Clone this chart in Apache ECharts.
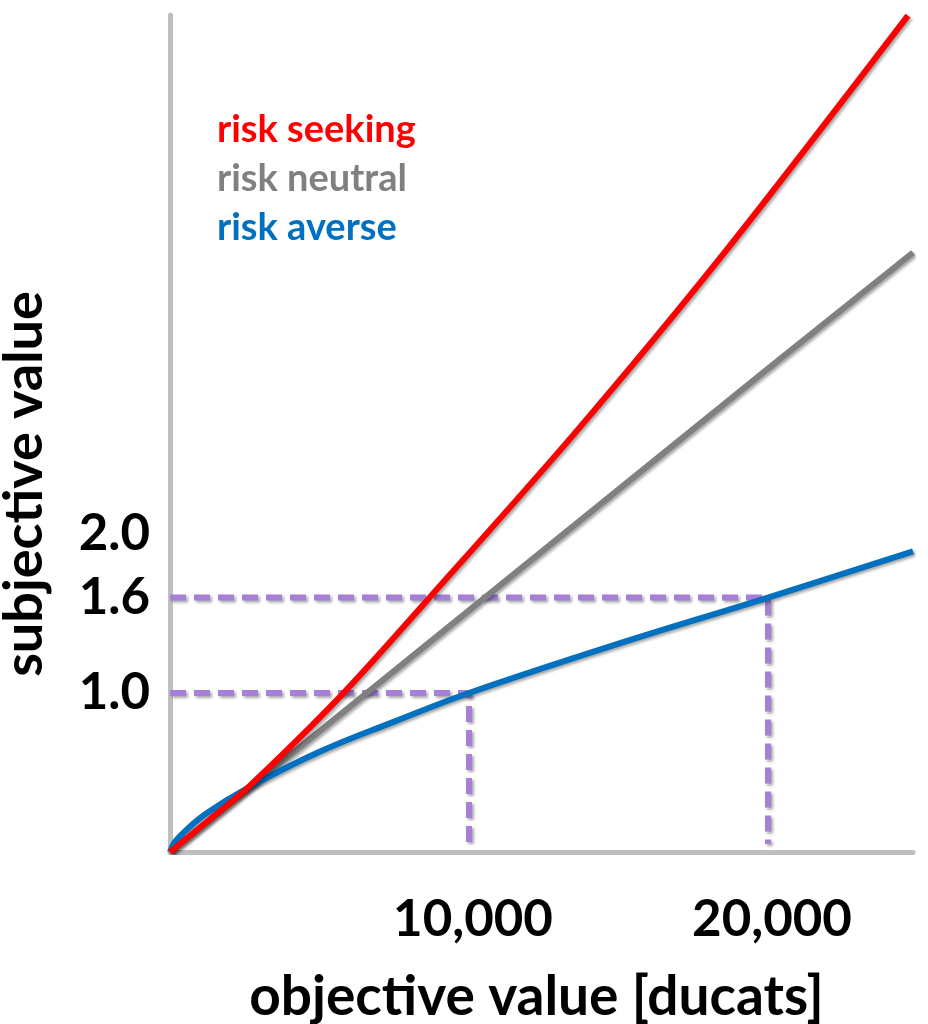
<!DOCTYPE html>
<html>
<head>
<meta charset="utf-8">
<script src="https://cdn.jsdelivr.net/npm/echarts@6/dist/echarts.min.js"></script>
<style>
  html, body { margin: 0; padding: 0; background: #ffffff; }
  #chart { width: 928px; height: 1024px; }
</style>
</head>
<body>
<div id="chart"></div>
<script>
// ---- data (objective value in ducats, subjective value) ----
const seekingX = [0, 1300, 2575, 5753, 8729, 13612, 18629, 24680];
const seekingY = [0, 0.20, 0.40, 0.99, 1.61, 2.65, 3.79, 5.26];

const neutralX = [0, 10000, 20000, 24850];
const neutralY = [0, 1.52, 3.04, 3.77];

const averseX = [0, 150, 500, 1200, 2575, 5000, 7500, 10000, 15000, 20000, 24850];
const averseY = [0, 0.06, 0.13, 0.24, 0.40, 0.63, 0.82, 1.00, 1.31, 1.60, 1.89];

const guideLowX = [0, 10000, 10000];
const guideLowY = [1.0, 1.0, 0.05];
const guideHighX = [0, 20000, 20000];
const guideHighY = [1.6, 1.6, 0.05];

const xTickLabels = [10000, 20000];
const yTickLabels = [1.0, 1.6, 2.0];

const seriesNames = ['risk seeking', 'risk neutral', 'risk averse'];
const seriesColors = ['#ff0000', '#808080', '#0070c0'];

const zip = (xs, ys) => xs.map((x, i) => [x, ys[i]]);
const FONT = 'Lato, "Open Sans", sans-serif';

const shadow = { shadowColor: 'rgba(0,0,0,0.35)', shadowBlur: 3, shadowOffsetX: 2, shadowOffsetY: 2 };

const chart = echarts.init(document.getElementById('chart'), null, { renderer: 'canvas' });

const guideStyle = Object.assign({ color: '#a57fd8', width: 6, type: [16, 8] }, shadow);

chart.setOption({
  backgroundColor: '#ffffff',
  animation: false,
  grid: { left: 170, right: 15, top: 15, bottom: 172, containLabel: false, outerBoundsMode: 'none' },
  legend: {
    orient: 'vertical',
    left: 207,
    top: 105,
    icon: 'none',
    itemWidth: 0,
    itemHeight: 10,
    itemGap: 9,
    selectedMode: false,
    textStyle: { fontFamily: FONT, fontWeight: 'bold', fontSize: 38, lineHeight: 40 },
    data: seriesNames.map((n, i) => ({ name: n, textStyle: { color: seriesColors[i] } }))
  },
  xAxis: {
    type: 'value',
    min: 0,
    max: 24850,
    interval: 10000,
    name: 'objective value [ducats]',
    nameLocation: 'middle',
    nameGap: 118,
    nameTextStyle: { fontFamily: FONT, fontWeight: 'bold', fontSize: 55, color: '#000', padding: [0, 10, 0, 0] },
    axisLine: { show: true, lineStyle: { color: '#bfbfbf', width: 5 } },
    axisTick: { show: false },
    splitLine: { show: false },
    axisLabel: {
      margin: 42,
      fontFamily: FONT, fontWeight: 'bold', fontSize: 51, color: '#000',
      showMaxLabel: false,
      padding: [0, 0, 0, 8],
      formatter: v => xTickLabels.some(t => Math.abs(t - v) < 1e-6) ? v.toLocaleString('en-US') : ''
    }
  },
  yAxis: {
    type: 'value',
    min: 0,
    max: 5.264,
    interval: 0.2,
    axisLine: { show: true, lineStyle: { color: '#bfbfbf', width: 5 } },
    axisTick: { show: false },
    splitLine: { show: false },
    axisLabel: {
      margin: 20,
      fontFamily: FONT, fontWeight: 'bold', fontSize: 51, color: '#000',
      showMaxLabel: false,
      formatter: v => {
        const t = yTickLabels.find(t => Math.abs(t - v) < 1e-6);
        return t === undefined ? '' : t.toFixed(1);
      }
    }
  },
  graphic: [{
    type: 'text',
    x: 25,
    y: 484,
    rotation: Math.PI / 2,
    style: {
      text: 'subjective value',
      font: 'bold 54px ' + FONT,
      fill: '#000',
      align: 'center',
      verticalAlign: 'middle'
    }
  }],
  series: [
    {
      name: 'guide-low', type: 'line', data: zip(guideLowX, guideLowY),
      symbol: 'none', lineStyle: guideStyle, z: 1, silent: true
    },
    {
      name: 'guide-high', type: 'line', data: zip(guideHighX, guideHighY),
      symbol: 'none', lineStyle: guideStyle, z: 1, silent: true
    },
    {
      name: seriesNames[1], type: 'line', data: zip(neutralX, neutralY),
      symbol: 'none', color: seriesColors[1],
      lineStyle: Object.assign({ color: seriesColors[1], width: 6 }, shadow), z: 2
    },
    {
      name: seriesNames[2], type: 'line', data: zip(averseX, averseY),
      symbol: 'none', smooth: 0.4, color: seriesColors[2],
      lineStyle: Object.assign({ color: seriesColors[2], width: 6 }, shadow), z: 3
    },
    {
      name: seriesNames[0], type: 'line', data: zip(seekingX, seekingY),
      symbol: 'none', smooth: 0.3, color: seriesColors[0],
      lineStyle: Object.assign({ color: seriesColors[0], width: 6 }, shadow), z: 4
    }
  ]
});
</script>
</body>
</html>
